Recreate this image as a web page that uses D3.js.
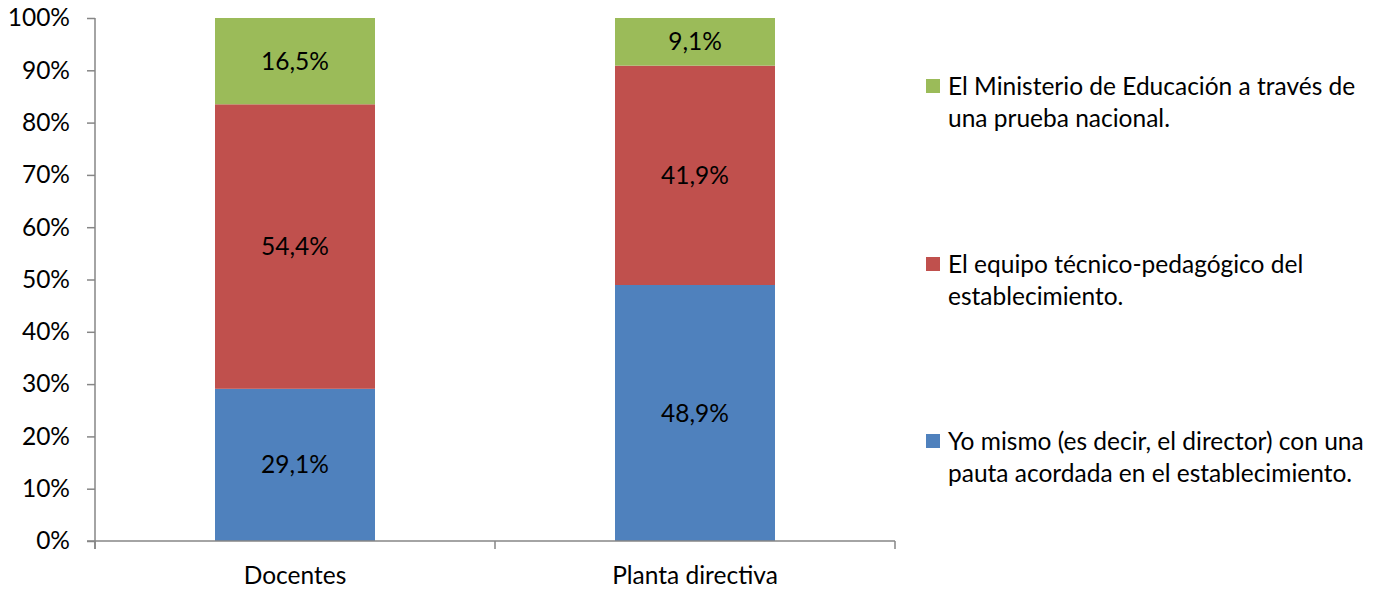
<!DOCTYPE html>
<html>
<head>
<meta charset="utf-8">
<script src="https://cdn.jsdelivr.net/npm/d3@7"></script>
<style>
  body { margin: 0; background: #fff; }
  text { font-family: Lato, "Open Sans", sans-serif; fill: #000; }
</style>
</head>
<body>
<svg id="chart" width="1389" height="589"></svg>
<script>
var categories = ["Docentes", "Planta directiva"];
var seriesNames = [
  "Yo mismo (es decir, el director) con una pauta acordada en el establecimiento.",
  "El equipo técnico-pedagógico del establecimiento.",
  "El Ministerio de Educación a través de una prueba nacional."
];
var legendLines = [
  ["Yo mismo (es decir, el director) con una", "pauta acordada en el establecimiento."],
  ["El equipo técnico-pedagógico del", "establecimiento."],
  ["El Ministerio de Educación a través de", "una prueba nacional."]
];
var directorValues = [29.1, 48.9];
var equipoValues = [54.4, 41.9];
var ministerioValues = [16.5, 9.1];
var yTicks = [0, 0.1, 0.2, 0.3, 0.4, 0.5, 0.6, 0.7, 0.8, 0.9, 1];
var colors = ["#4F81BD", "#C0504D", "#9BBB59"];

var FS = "24.5px";
var svg = d3.select("#chart");
var margin = {left: 95, top: 18, right: 494, bottom: 48};
var width = 1389 - margin.left - margin.right,
    height = 589 - margin.top - margin.bottom;

var rows = categories.map(function(c, i) {
  return {cat: c, s0: directorValues[i], s1: equipoValues[i], s2: ministerioValues[i]};
});
var stack = d3.stack().keys(["s0", "s1", "s2"]).offset(d3.stackOffsetExpand);
var layers = stack(rows);

var x = d3.scaleBand().domain(categories).range([0, width]).paddingInner(0.6).paddingOuter(0.3);
var xOuter = d3.scaleBand().domain(categories).range([0, width]);
var y = d3.scaleLinear().domain([0, 1]).range([height, 0]);

var g = svg.append("g").attr("transform", "translate(" + margin.left + "," + margin.top + ")");

// bars
var layer = g.selectAll(".layer").data(layers).enter().append("g")
  .attr("fill", function(d, i) { return colors[i]; });
layer.selectAll("rect").data(function(d) { return d; }).enter().append("rect")
  .attr("x", function(d) { return x(d.data.cat); })
  .attr("width", x.bandwidth())
  .attr("y", function(d) { return y(d[1]); })
  .attr("height", function(d) { return y(d[0]) - y(d[1]); });

// labels
layers.forEach(function(l, si) {
  var vals = [directorValues, equipoValues, ministerioValues][si];
  g.selectAll(".lbl" + si).data(l).enter().append("text")
    .attr("x", function(d) { return x(d.data.cat) + x.bandwidth() / 2; })
    .attr("y", function(d) { return (y(d[0]) + y(d[1])) / 2; })
    .attr("dy", "0.35em")
    .attr("text-anchor", "middle")
    .style("font-size", FS)
    .text(function(d, i) { return vals[i].toFixed(1).replace(".", ",") + "%"; });
});

// y axis
var yAxis = d3.axisLeft(y).tickValues(yTicks).tickSize(8).tickPadding(17)
  .tickFormat(function(d) { return Math.round(d * 100) + "%"; });
var ya = g.append("g").call(yAxis);
ya.select(".domain").attr("d", "M0," + y(1) + "V" + (height + 8));

// x axis
var xa = g.append("g").attr("transform", "translate(0," + height + ")");
xa.append("line").attr("x1", -8).attr("x2", width).attr("y1", 0).attr("y2", 0);
xa.selectAll(".xt").data(categories.concat(["end"])).enter().append("line")
  .attr("x1", function(d, i) { return i * xOuter.bandwidth(); })
  .attr("x2", function(d, i) { return i * xOuter.bandwidth(); })
  .attr("y1", 0).attr("y2", 8);
xa.selectAll("text").data(categories).enter().append("text")
  .attr("x", function(d) { return xOuter(d) + xOuter.bandwidth() / 2; })
  .attr("y", 34)
  .attr("dy", "0.35em")
  .attr("text-anchor", "middle")
  .style("font-size", FS)
  .text(function(d) { return d; });

g.selectAll(".tick line, .domain, line").attr("stroke", "#868686").attr("stroke-width", 1.5);
ya.selectAll("text").style("font-size", FS).attr("fill", "#000");
ya.attr("font-family", null).attr("font-size", null);

// legend
var legendY = [441, 264, 86];
var legend = svg.append("g");
seriesNames.forEach(function(name, i) {
  var lg = legend.append("g").attr("transform", "translate(926," + legendY[i] + ")");
  lg.append("rect").attr("x", 0).attr("y", -7).attr("width", 14).attr("height", 14).attr("fill", colors[i]);
  legendLines[i].forEach(function(line, j) {
    lg.append("text").attr("x", 22).attr("y", j * 32).attr("dy", "0.35em")
      .style("font-size", FS).text(line);
  });
});
</script>
</body>
</html>
